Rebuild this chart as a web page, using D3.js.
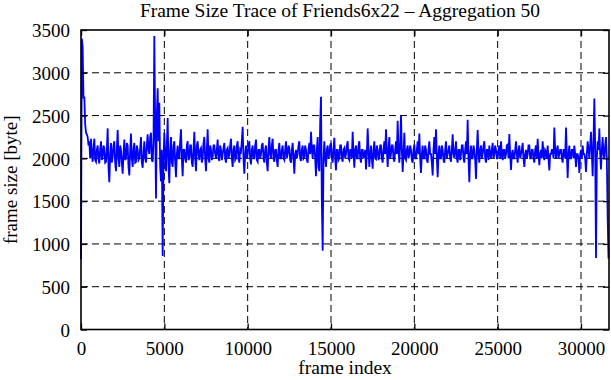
<!DOCTYPE html>
<html>
<head>
<meta charset="utf-8">
<script src="https://cdn.jsdelivr.net/npm/d3@7"></script>
<style>
body { margin: 0; background: #fff; }
text { font-family: "Liberation Serif", "Times New Roman", serif; }
</style>
</head>
<body>
<div id="container"></div>
<script>
var margin = {top: 30, right: 2, bottom: 50, left: 81},
    W = 611, H = 380,
    w = W - margin.left - margin.right,
    h = 299.5;

// frames between two trace samples (aggregation window)
var frameStep = 50;

// aggregated frame sizes [byte], one row per 1000 frames
var frameSizes = [
  820, 3400, 3300, 2700, 2720, 2400, 2300, 2280, 2250, 2150, 2200, 2000, 2230, 2050, 1960, 2120, 2230, 1980, 1960, 2100,
  2150, 2000, 1940, 2100, 2200, 1980, 2020, 2150, 2120, 1950, 1960, 2100, 2350, 1900, 1720, 2050, 2180, 1950, 2020, 2150,
  2200, 1950, 1850, 2100, 2330, 2000, 1900, 2150, 2100, 1950, 1820, 2050, 2220, 1980, 2000, 2180, 2150, 1900, 1800, 2100,
  2290, 2000, 1900, 2100, 2180, 1950, 1960, 2150, 2100, 1980, 2000, 2120, 2250, 1950, 1890, 2050, 2200, 2000, 1950, 2150,
  2280, 2100, 2050, 2250, 2300, 1980, 1960, 2200, 3430, 2400, 1530, 2500, 2820, 2200, 2650, 1900, 1730, 2100, 860, 1950,
  2300, 2050, 1850, 2150, 2470, 1900, 1710, 2100, 2250, 1950, 1900, 2150, 2200, 1950, 1780, 2050, 2150, 2000, 2000, 2200,
  2340, 2000, 1790, 2100, 2100, 2000, 1950, 2150, 2200, 1980, 2000, 2150, 2150, 1950, 1900, 2100, 2310, 2000, 1850, 2150,
  2200, 2050, 1980, 2100, 2120, 1950, 2000, 2180, 2250, 2000, 1850, 2100, 2340, 2000, 1950, 2150, 2100, 1980, 2020, 2150,
  2150, 2050, 2000, 2100, 2220, 2000, 1970, 2150, 2100, 1980, 2050, 2120, 2180, 2000, 1950, 2100, 2120, 2000, 2040, 2150,
  2230, 2000, 1900, 2100, 2150, 1980, 2000, 2150, 2200, 2000, 1950, 2100, 2080, 2200, 2370, 2000, 1820, 2050, 2150, 2000,
  2050, 2150, 2200, 2000, 1930, 2100, 2150, 2000, 2000, 2150, 2220, 1980, 1960, 2100, 2100, 2000, 2050, 2150, 2180, 2000,
  1950, 2100, 2150, 1950, 1850, 2100, 2250, 2050, 2000, 2150, 2230, 2000, 1960, 2100, 2100, 1980, 1900, 2100, 2180, 2000,
  2000, 2100, 2150, 2000, 1980, 2100, 2200, 2000, 2050, 2150, 2120, 1980, 1950, 2100, 2180, 2000, 1820, 2050, 2100, 2000,
  2050, 2150, 2200, 2000, 1970, 2100, 2150, 2000, 2020, 2150, 2100, 1980, 1950, 2100, 2180, 2050, 2310, 2100, 2000, 2150,
  2150, 2000, 1790, 2100, 2250, 1900, 1850, 2400, 2720, 1500, 920, 2000, 2200, 2000, 1900, 2100, 2150, 2000, 2050, 2150,
  2180, 2000, 1950, 2100, 2240, 2000, 1860, 2100, 2100, 1980, 2000, 2150, 2150, 2000, 1960, 2100, 2120, 2000, 2050, 2150,
  2200, 2000, 1980, 2100, 2100, 2000, 2310, 2050, 1890, 2100, 2150, 2000, 2000, 2150, 2200, 2000, 1950, 2100, 2100, 2000,
  2050, 2100, 1870, 2050, 2350, 2100, 1900, 2050, 2150, 2000, 1880, 2100, 2200, 2000, 1990, 2150, 2100, 1980, 2020, 2150,
  2150, 2000, 1950, 2100, 2200, 2050, 2340, 2100, 1900, 2100, 2250, 2000, 2050, 2150, 2150, 2000, 1960, 2100, 2200, 2050,
  2440, 2100, 1950, 2150, 2500, 2100, 1840, 2050, 2300, 2000, 1980, 2100, 2150, 2000, 2050, 2150, 2100, 1980, 1950, 2100,
  2160, 2000, 2000, 2100, 2200, 2050, 2290, 2000, 1830, 2050, 2150, 2000, 2000, 2150, 2100, 1980, 1950, 2100, 2200, 2050,
  2050, 1950, 1800, 2100, 2250, 2050, 2340, 2000, 1780, 2050, 2150, 2000, 2000, 2150, 2100, 1980, 1950, 2100, 2200, 2000,
  2050, 2100, 2150, 2000, 1960, 2100, 2280, 2050, 2000, 2100, 2200, 2000, 1950, 2100, 2100, 1980, 2050, 2150, 2150, 2000,
  1950, 2100, 2200, 2050, 2450, 2000, 1720, 2050, 2150, 2000, 2000, 2150, 2100, 1980, 1760, 2100, 2330, 2050, 1950, 2100,
  2150, 2000, 2050, 2150, 2200, 2000, 1950, 2100, 2100, 1980, 2150, 2050, 2000, 2100, 2180, 2000, 2050, 2150, 2100, 2000,
  2000, 2100, 2150, 2000, 2200, 2050, 1980, 2100, 2100, 2000, 2050, 2150, 2160, 2000, 2285, 2050, 1865, 2050, 2100, 2000,
  2000, 2100, 2200, 2050, 1950, 2100, 2150, 2000, 2050, 2100, 2180, 2000, 1900, 2050, 2100, 2000, 2050, 2150, 2150, 2000,
  2000, 2100, 2100, 2000, 1950, 2100, 2150, 2000, 2230, 2050, 1920, 2050, 2100, 2000, 2200, 2050, 1980, 2100, 2080, 2000,
  2150, 2000, 1860, 2050, 2050, 2100, 2100, 2000, 2360, 2100, 2000, 2100, 2150, 2000, 2050, 2100, 2100, 2000, 1950, 2100,
  2100, 2000, 2360, 2050, 1770, 2050, 2150, 2000, 2000, 2100, 2100, 2000, 2150, 2050, 1900, 2050, 2050, 2000, 1830, 2050,
  2100, 2000, 2150, 2050, 2050, 2000, 1840, 2050, 2200, 2100, 2000, 2150, 2310, 2050, 1790, 2200, 2700, 2150, 835, 2000,
  2200, 2100, 2350, 2050, 1870, 2100, 2250, 2050, 2000, 2150, 2250, 2000, 1300, 830
];

var xTicks = [0, 5000, 10000, 15000, 20000, 25000, 30000],
    yTicks = [0, 500, 1000, 1500, 2000, 2500, 3000, 3500];

var svg = d3.select('#container').append('svg')
    .attr('width', W)
    .attr('height', H);

var g = svg.append('g')
    .attr('transform', 'translate(' + margin.left + ',' + margin.top + ')');

var xScale = d3.scaleLinear()
    .domain([0, 31680])
    .range([0, w]);

var yScale = d3.scaleLinear()
    .domain([0, 3500])
    .range([h, 0]);

/* dashed grid, interior ticks only */
g.selectAll('.gx').data(xTicks.slice(1))
    .enter().append('line')
    .attr('x1', d => xScale(d)).attr('x2', d => xScale(d))
    .attr('y1', 0).attr('y2', h)
    .attr('stroke', '#000').attr('stroke-width', 1)
    .attr('stroke-dasharray', '7,4');

g.selectAll('.gy').data(yTicks.slice(1, -1))
    .enter().append('line')
    .attr('x1', 0).attr('x2', w)
    .attr('y1', d => yScale(d)).attr('y2', d => yScale(d))
    .attr('stroke', '#000').attr('stroke-width', 1)
    .attr('stroke-dasharray', '7,4');

/* the trace */
var line = d3.line()
    .x((d, i) => xScale(i * frameStep))
    .y(d => yScale(d));

g.append('path')
    .datum(frameSizes)
    .attr('fill', 'none')
    .attr('stroke', '#0000ff')
    .attr('stroke-width', 1.8)
    .attr('d', line);

/* axes: inward ticks on every side */
var fmt = d3.format('d');
var xAxis = d3.axisBottom(xScale).tickValues(xTicks).tickFormat(fmt).tickSize(-6).tickPadding(12);
var yAxis = d3.axisLeft(yScale).tickValues(yTicks).tickFormat(fmt).tickSize(-6).tickPadding(11);

var gx = g.append('g').attr('transform', 'translate(0,' + h + ')').call(xAxis);
var gy = g.append('g').call(yAxis);
g.append('g').call(d3.axisTop(xScale).tickValues(xTicks).tickSize(-6).tickFormat(''));
g.append('g').attr('transform', 'translate(' + w + ',0)')
    .call(d3.axisRight(yScale).tickValues(yTicks).tickSize(-6).tickFormat(''));

g.selectAll('.domain').remove();
g.selectAll('.tick line').attr('stroke', '#000').attr('stroke-width', 1.3);
g.selectAll('.tick text')
    .attr('font-family', '"Liberation Serif", "Times New Roman", serif')
    .attr('font-size', 19)
    .attr('fill', '#000');
gy.selectAll('text').attr('dy', '0.35em');

g.append('rect')
    .attr('width', w).attr('height', h)
    .attr('fill', 'none')
    .attr('stroke', '#000').attr('stroke-width', 1.6);

/* labels */
svg.append('text')
    .attr('x', margin.left + w / 2 - 5).attr('y', 17)
    .attr('text-anchor', 'middle')
    .style('font-size', '19.5px')
    .text('Frame Size Trace of Friends6x22 \u2013 Aggregation 50');

svg.append('text')
    .attr('x', margin.left + w / 2).attr('y', 374)
    .attr('text-anchor', 'middle')
    .style('font-size', '19.5px')
    .text('frame index');

svg.append('text')
    .attr('transform', 'translate(17,' + (margin.top + h / 2) + ') rotate(-90)')
    .attr('text-anchor', 'middle')
    .style('font-size', '19px')
    .text('frame size [byte]');
</script>
</body>
</html>
